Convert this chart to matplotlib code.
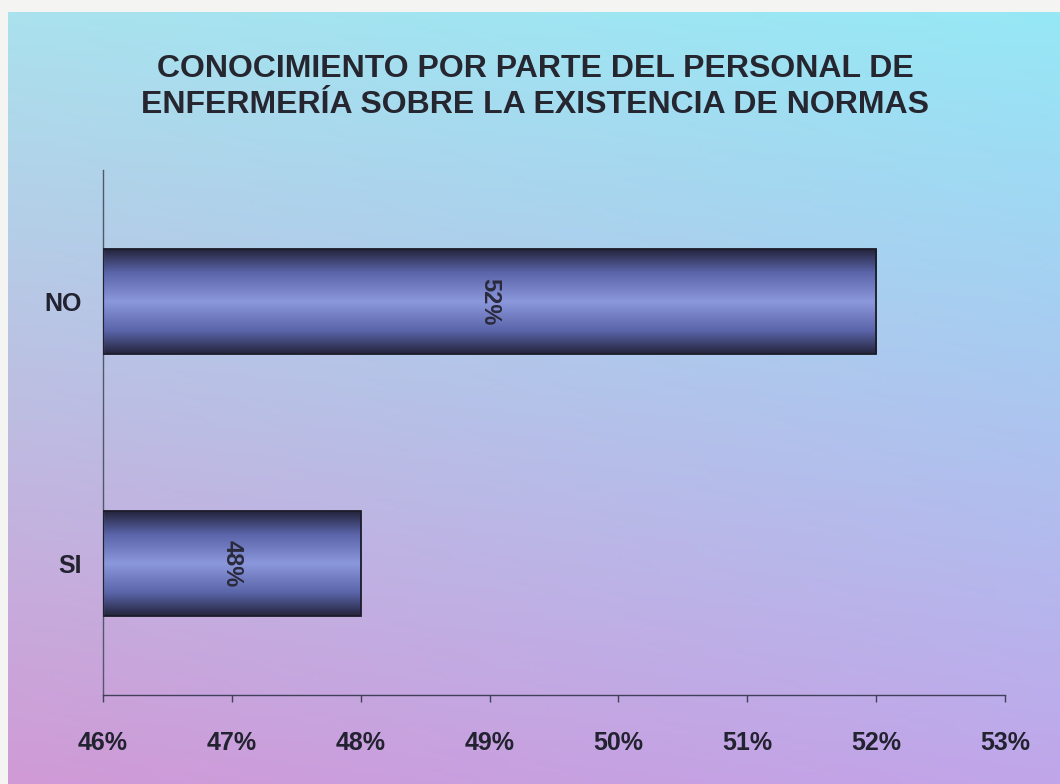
import numpy as np
import matplotlib
matplotlib.use("Agg")
import matplotlib.pyplot as plt
from matplotlib.colors import LinearSegmentedColormap

# data
categories = ["SI", "NO"]
values = [48, 52]          # percent
bar_labels = ["48%", "52%"]
x_ticks = [46, 47, 48, 49, 50, 51, 52, 53]
title = "CONOCIMIENTO POR PARTE DEL PERSONAL DE\nENFERMERÍA SOBRE LA EXISTENCIA DE NORMAS"

plt.rcParams['font.family'] = ['Liberation Sans', 'DejaVu Sans']

fig = plt.figure(figsize=(10.6, 7.84), dpi=100)
fig.patch.set_facecolor("#f4f4f2")

# background gradient (cyan top -> lavender -> pinkish purple bottom)
bg = fig.add_axes([0.008, 0.0, 0.992, 0.985])
bg.set_axis_off()
tl = np.array([170, 226, 238]) / 255
tr = np.array([150, 232, 246]) / 255
bl = np.array([208, 154, 214]) / 255
br = np.array([192, 166, 234]) / 255
ny, nx = 200, 200
yy, xx = np.mgrid[0:1:ny * 1j, 0:1:nx * 1j]
img = ((1 - yy)[..., None] * ((1 - xx)[..., None] * tl + xx[..., None] * tr)
       + yy[..., None] * ((1 - xx)[..., None] * bl + xx[..., None] * br))
bg.imshow(img, aspect="auto", extent=[0, 1, 0, 1], origin="upper")
bg.set_xlim(0, 1)
bg.set_ylim(0, 1)

ax = fig.add_axes([0.0972, 0.1135, 0.851, 0.6695])
ax.patch.set_alpha(0)

bar_h = 0.4
bar_cmap = LinearSegmentedColormap.from_list(
    "bar", [(0, "#24243c"), (0.22, "#5a64a8"), (0.5, "#8c98dc"),
            (0.78, "#5a64a8"), (1, "#24243c")])
grad = np.linspace(0, 1, 256).reshape(-1, 1)

ypos = np.arange(len(categories))
bars = ax.barh(ypos, np.array(values) - x_ticks[0], left=x_ticks[0], height=bar_h,
               facecolor="none", edgecolor="#1c1c2a", linewidth=1.3, zorder=3)
for b, v, y, lab in zip(bars, values, ypos, bar_labels):
    im = ax.imshow(grad, aspect="auto", cmap=bar_cmap,
                   extent=[x_ticks[0], v, y - bar_h / 2, y + bar_h / 2],
                   zorder=2)
    im.set_clip_path(b)
    ax.text((x_ticks[0] + v) / 2, y, lab, rotation=270, ha="center", va="center",
            fontsize=17, fontweight="bold", color="#2a2a3c", zorder=4)

ax.set_xlim(x_ticks[0], x_ticks[-1])
ax.set_ylim(-0.5, 1.5)
ax.set_xticks(x_ticks)
ax.set_xticklabels([f"{t}%" for t in x_ticks])
ax.set_yticks(ypos)
ax.set_yticklabels(categories)

for s in ["top", "right"]:
    ax.spines[s].set_visible(False)
ax.spines["left"].set_color("#50586a")
ax.spines["left"].set_linewidth(1.0)
ax.spines["bottom"].set_color("#40405a")
ax.spines["bottom"].set_linewidth(1.0)

ax.tick_params(axis="x", direction="out", length=5, width=1, color="#40405a",
               pad=21, labelsize=18, labelcolor="#222230")
ax.tick_params(axis="y", length=0, pad=15, labelsize=18, labelcolor="#222230")
for t in ax.get_xticklabels() + ax.get_yticklabels():
    t.set_fontweight("bold")

fig.text(0.505, 0.889, title, ha="center", va="center", fontsize=23,
         fontweight="bold", color="#262630", linespacing=1.3)

fig.savefig("out.png", dpi=100, facecolor=fig.get_facecolor())
